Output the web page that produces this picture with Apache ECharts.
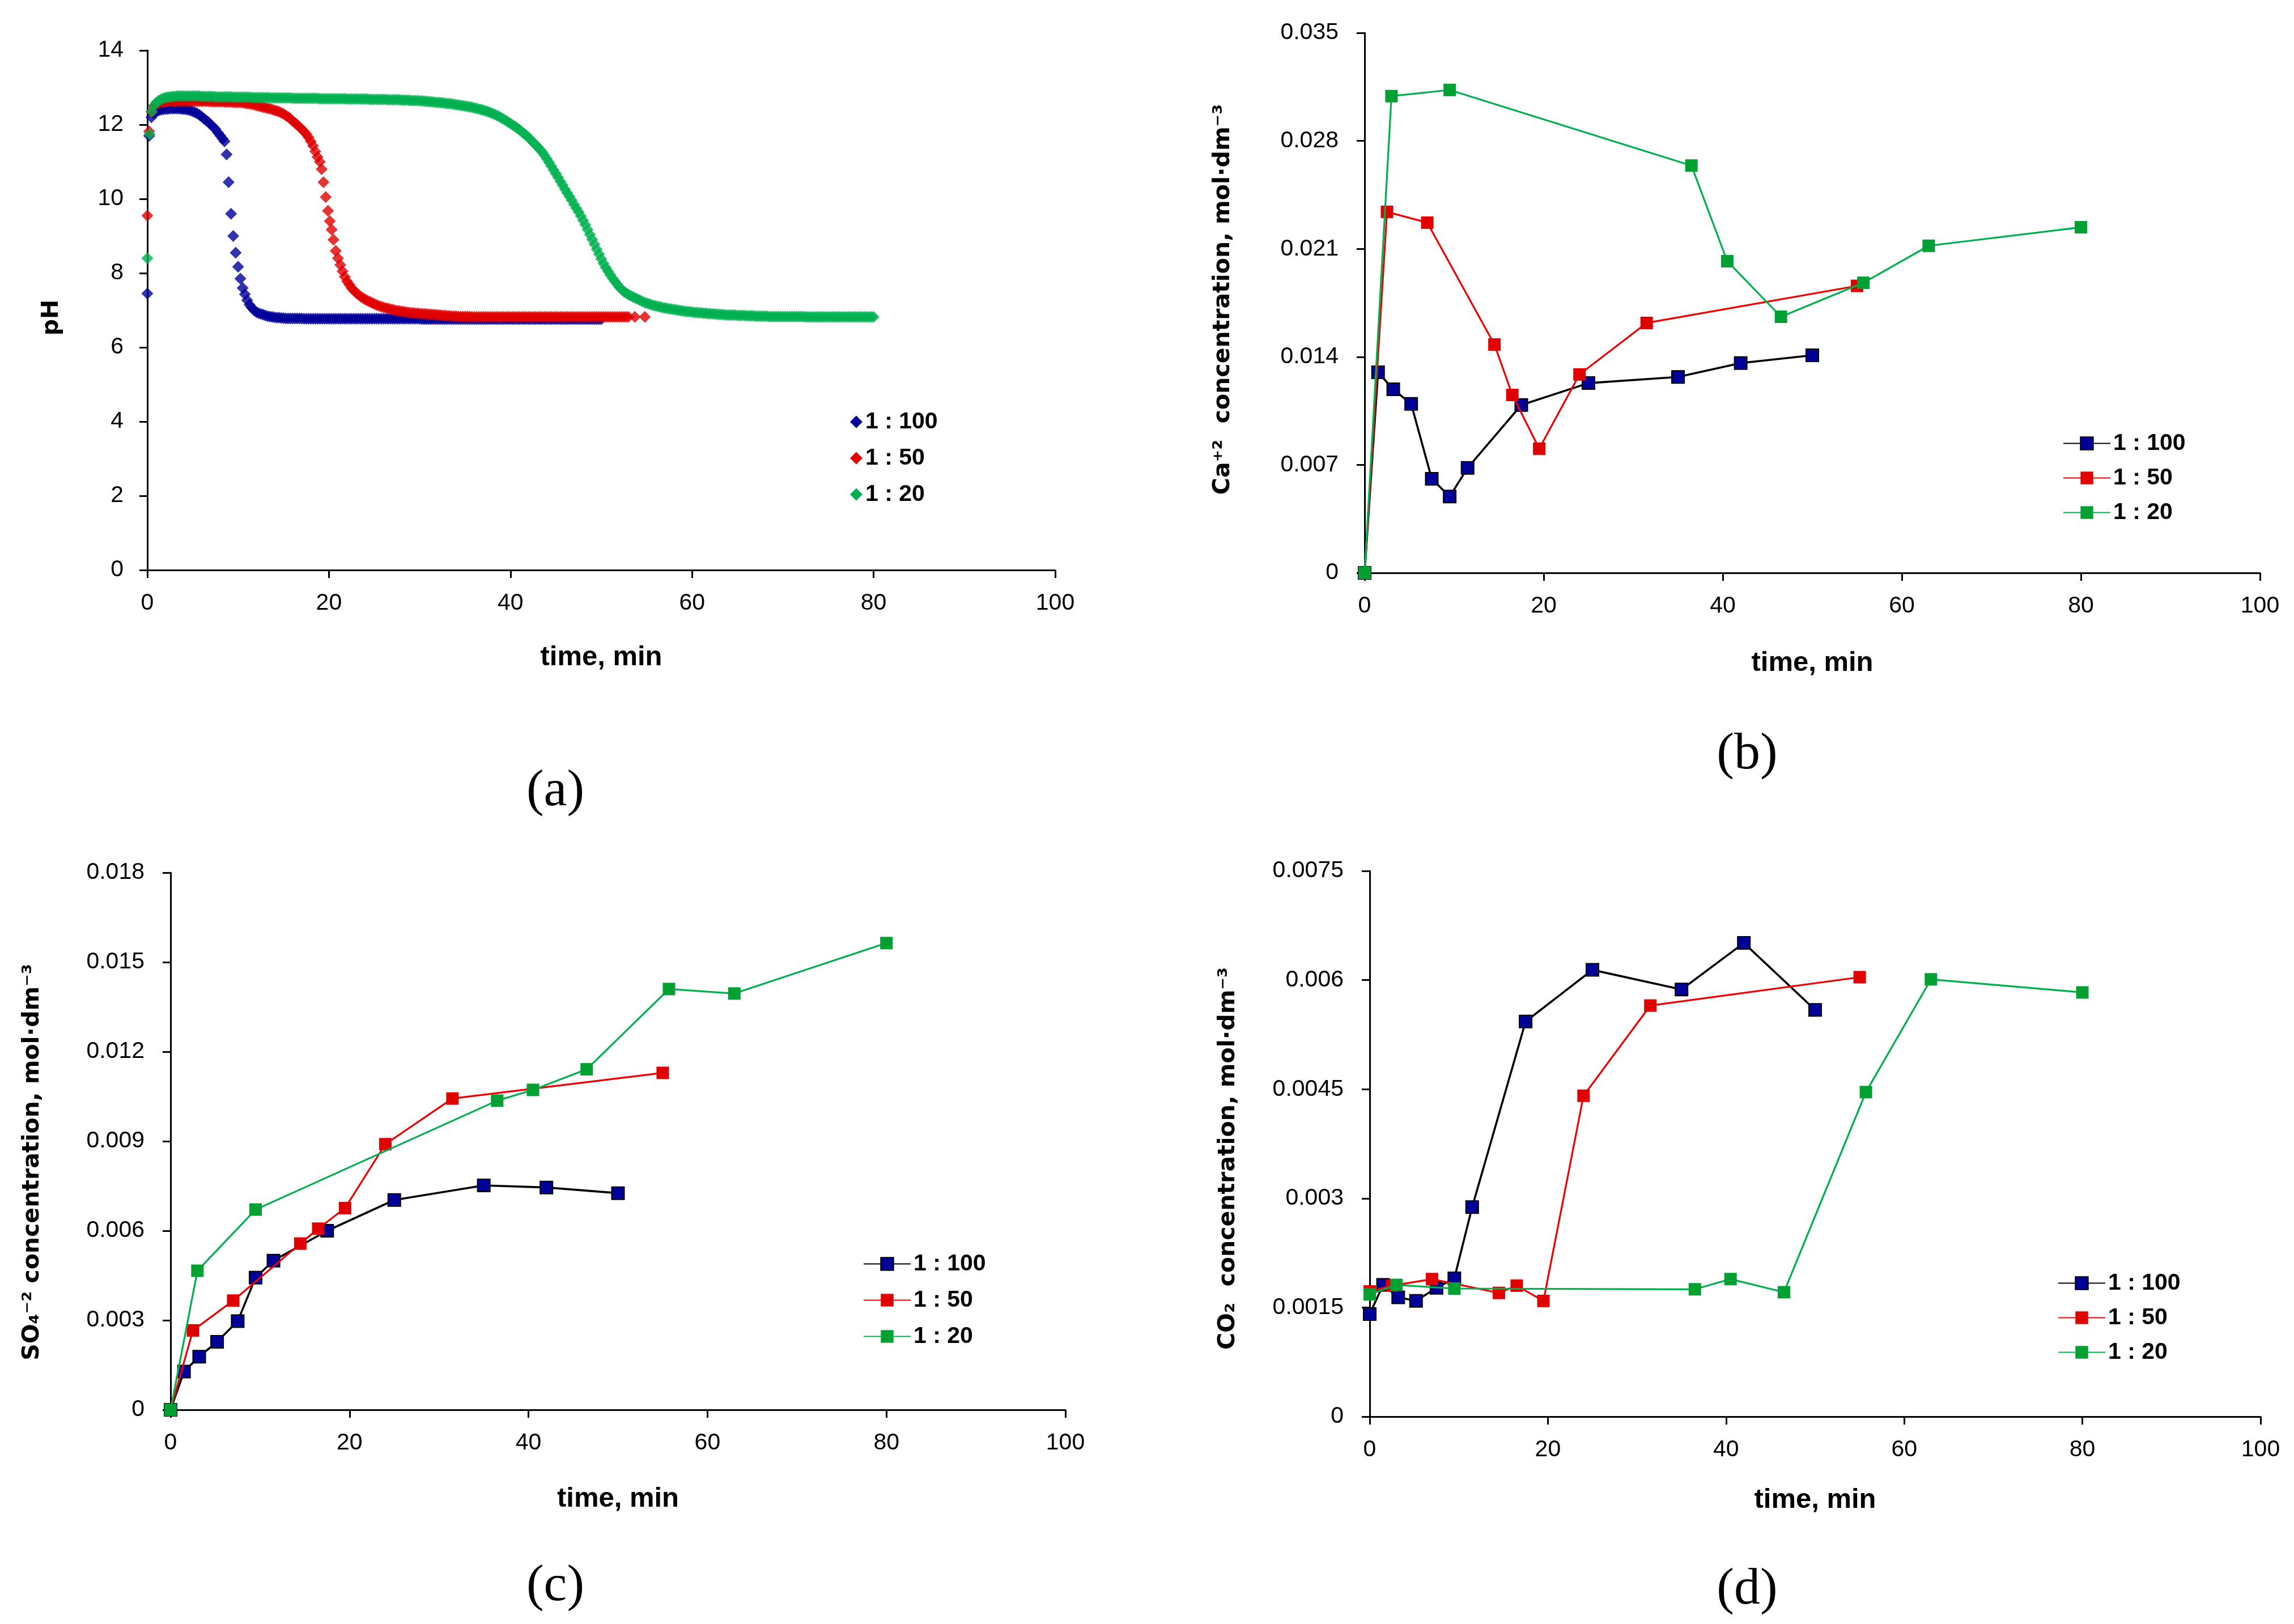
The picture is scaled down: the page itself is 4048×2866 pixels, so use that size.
<!DOCTYPE html>
<html>
<head>
<meta charset="utf-8">
<script src="https://cdn.jsdelivr.net/npm/echarts@6/dist/echarts.min.js"></script>
<style>
html,body{margin:0;padding:0;background:#ffffff;}
#chart{width:4048px;height:2866px;}
</style>
</head>
<body>
<div id="chart"></div>
<script>
// ---------------- DATA ----------------
const seriesNames = ['1 : 100', '1 : 50', '1 : 20'];
const captions = ['(a)', '(b)', '(c)', '(d)'];
const xTitle = 'time, min';
const yTitles = ['pH', 'Ca⁺²  concentration, mol·dm⁻³', 'SO₄⁻² concentration, mol·dm⁻³', 'CO₂  concentration, mol·dm⁻³'];

// (a) pH vs time  [time, pH]
const ph100 = [[0,7.45],[0.2,11.7],[0.45,12.2],[0.7,12.3],[1,12.35],[1.25,12.38],[1.5,12.4],[1.75,12.41],[2,12.42],[2.25,12.42],[2.5,12.43],[2.75,12.43],[3,12.43],[3.25,12.43],[3.5,12.43],[3.75,12.42],[4,12.42],[4.25,12.41],[4.5,12.4],[4.75,12.38],[5,12.36],[5.25,12.33],[5.5,12.3],[5.75,12.26],[6,12.21],[6.25,12.16],[6.5,12.11],[6.75,12.06],[7,12.0],[7.25,11.94],[7.5,11.88],[7.8,11.78],[8.05,11.7],[8.3,11.62],[8.5,11.55],[8.73,11.2],[8.95,10.45],[9.22,9.6],[9.46,9.0],[9.73,8.55],[10,8.17],[10.25,7.85],[10.5,7.6],[10.75,7.43],[11,7.27],[11.25,7.15],[11.5,7.07],[11.75,7.0],[12,6.95],[12.25,6.92],[12.5,6.9],[12.75,6.88],[13,6.86],[13.25,6.84],[13.5,6.83],[13.75,6.82],[14,6.81],[14.25,6.8],[14.5,6.8],[14.75,6.79],[15,6.79],
[15.25,6.78],[15.5,6.78],[15.75,6.78],[16,6.78],[16.25,6.78],[16.5,6.78],[16.75,6.78],[17,6.78],
[17.25,6.77],[17.5,6.77],[17.75,6.77],[18,6.77],[18.25,6.77],[18.5,6.77],[18.75,6.77],[19,6.77],[19.25,6.77],[19.5,6.77],[19.75,6.77],[20,6.77],[20.25,6.77],[20.5,6.77],[20.75,6.77],[21,6.77],[21.25,6.77],[21.5,6.77],[21.75,6.77],[22,6.77],[22.25,6.77],[22.5,6.77],[22.75,6.77],[23,6.77],[23.25,6.77],[23.5,6.77],[23.75,6.77],[24,6.77],[24.25,6.77],[24.5,6.77],[24.75,6.77],[25,6.77],[25.25,6.77],[25.5,6.77],[25.75,6.77],[26,6.77],[26.25,6.77],[26.5,6.77],[26.75,6.77],[27,6.77],[27.25,6.77],[27.5,6.77],[27.75,6.77],[28,6.77],[28.25,6.77],[28.5,6.77],[28.75,6.77],[29,6.77],[29.25,6.77],[29.5,6.77],[29.75,6.77],[30,6.77],
[30.25,6.76],[30.5,6.76],[30.75,6.76],[31,6.76],[31.25,6.76],[31.5,6.76],[31.75,6.76],[32,6.76],[32.25,6.76],[32.5,6.76],[32.75,6.76],[33,6.76],[33.25,6.76],[33.5,6.76],[33.75,6.76],[34,6.76],[34.25,6.76],[34.5,6.76],[34.75,6.76],[35,6.76],[35.25,6.76],[35.5,6.76],[35.75,6.76],[36,6.76],[36.25,6.76],[36.5,6.76],[36.75,6.76],[37,6.76],[37.25,6.76],[37.5,6.76],[37.75,6.76],[38,6.76],[38.25,6.76],[38.5,6.76],[38.75,6.76],[39,6.76],[39.25,6.76],[39.5,6.76],[39.75,6.76],[40,6.76],[40.25,6.76],[40.5,6.76],[40.75,6.76],[41,6.76],[41.25,6.76],[41.5,6.76],[41.75,6.76],[42,6.76],[42.25,6.76],[42.5,6.76],[42.75,6.76],[43,6.76],[43.25,6.76],[43.5,6.76],[43.75,6.76],[44,6.76],[44.25,6.76],[44.5,6.76],[44.75,6.76],[45,6.76],[45.25,6.76],[45.5,6.76],[45.75,6.76],[46,6.76],[46.25,6.76],[46.5,6.76],[46.75,6.76],[47,6.76],[47.25,6.76],[47.5,6.76],[47.75,6.76],[48,6.76],[48.25,6.76],[48.5,6.76],[48.75,6.76],[49,6.76],[49.25,6.76],[49.5,6.76],[49.75,6.76],[50,6.76]];

const ph50 = [[0,9.55],[0.2,11.82],[0.45,12.35],[0.7,12.5],[1,12.55],[1.25,12.58],[1.5,12.6],[1.75,12.61],[2,12.62],[2.25,12.63],[2.5,12.63],[2.75,12.63],[3,12.63],[3.25,12.63],[3.5,12.63],[3.75,12.63],[4,12.63],[4.25,12.63],[4.5,12.63],[4.75,12.63],[5,12.63],[5.25,12.63],[5.5,12.63],[5.75,12.63],[6,12.63],[6.25,12.63],[6.5,12.63],[6.75,12.63],[7,12.62],[7.25,12.62],[7.5,12.62],[7.75,12.62],[8,12.62],[8.25,12.62],[8.5,12.61],[8.75,12.61],[9,12.61],[9.25,12.61],[9.5,12.6],[9.75,12.6],[10,12.6],[10.25,12.6],[10.5,12.59],[10.75,12.58],[11,12.57],[11.25,12.56],[11.5,12.55],[11.75,12.54],[12,12.52],[12.25,12.5],[12.5,12.49],[12.75,12.47],[13,12.46],[13.25,12.44],[13.5,12.43],[13.75,12.41],[14,12.39],[14.25,12.37],[14.5,12.35],[14.75,12.32],[15,12.29],[15.25,12.25],[15.5,12.21],[15.75,12.16],[16,12.1],[16.25,12.05],[16.5,12.0],[16.75,11.94],[17,11.88],[17.25,11.82],[17.5,11.75],[17.75,11.66],[18,11.55],[18.25,11.43],[18.5,11.28],[18.75,11.13],[19,11.0],[19.2,10.8],[19.4,10.45],[19.65,10.05],[19.9,9.68],[20.1,9.4],[20.3,9.17],[20.5,8.9],[20.75,8.6],[21,8.4],[21.25,8.22],[21.5,8.05],[21.75,7.9],[22,7.78],[22.25,7.69],[22.5,7.6],[22.75,7.53],[23,7.47],[23.25,7.42],[23.5,7.37],[23.75,7.33],[24,7.29],[24.25,7.26],[24.5,7.23],[24.75,7.2],[25,7.17],[25.25,7.14],[25.5,7.12],[25.75,7.1],[26,7.08],[26.25,7.06],[26.5,7.05],[26.75,7.03],[27,7.02],[27.25,7.0],[27.5,6.99],[27.75,6.98],[28,6.97],[28.25,6.96],[28.5,6.95],[28.75,6.94],[29,6.93],[29.25,6.93],[29.5,6.92],[29.75,6.92],[30,6.91],[30.25,6.91],[30.5,6.9],[30.75,6.9],[31,6.89],[31.25,6.89],[31.5,6.88],[31.75,6.88],[32,6.87],[32.25,6.87],[32.5,6.86],[32.75,6.86],[33,6.85],[33.25,6.85],[33.5,6.84],[33.75,6.84],[34,6.84],[34.25,6.83],[34.5,6.83],[34.75,6.83],[35,6.83],[35.25,6.83],[35.5,6.83],[35.75,6.82],
[36,6.82],[36.25,6.82],[36.5,6.82],[36.75,6.82],[37,6.82],[37.25,6.82],[37.5,6.82],[37.75,6.82],[38,6.82],[38.25,6.82],[38.5,6.82],[38.75,6.82],[39,6.82],[39.25,6.82],[39.5,6.82],[39.75,6.82],[40,6.82],[40.25,6.82],[40.5,6.82],[40.75,6.82],[41,6.82],[41.25,6.82],[41.5,6.82],[41.75,6.82],[42,6.82],[42.25,6.82],[42.5,6.82],[42.75,6.82],[43,6.82],[43.25,6.82],[43.5,6.82],[43.75,6.82],[44,6.82],[44.25,6.82],[44.5,6.82],[44.75,6.82],[45,6.82],[45.25,6.82],[45.5,6.82],[45.75,6.82],[46,6.82],[46.25,6.82],[46.5,6.82],[46.75,6.82],[47,6.82],[47.25,6.82],[47.5,6.82],[47.75,6.82],[48,6.82],[48.25,6.82],[48.5,6.82],[48.75,6.82],[49,6.82],[49.25,6.82],[49.5,6.82],[49.75,6.82],[50,6.82],[50.25,6.82],[50.5,6.82],[50.75,6.82],[51,6.82],[51.25,6.82],[51.5,6.82],[51.75,6.82],[52,6.82],[52.25,6.82],[52.5,6.82],[52.75,6.82],[53,6.82],[53.7,6.82],[54.8,6.82]];

const ph20 = [[0,8.4],[0.25,11.75],[0.5,12.35],[0.75,12.52],[1,12.6],[1.25,12.65],[1.5,12.68],[1.75,12.71],[2,12.73],[2.25,12.74],[2.5,12.75],[2.75,12.76],[3,12.76],
[3.25,12.77],[3.5,12.77],[3.75,12.77],[4,12.77],[4.25,12.77],[4.5,12.77],[4.75,12.77],[5,12.77],[5.25,12.77],[5.5,12.77],[5.75,12.77],
[6,12.76],[6.25,12.76],[6.5,12.76],[6.75,12.76],[7,12.76],[7.25,12.76],
[7.5,12.75],[7.75,12.75],[8,12.75],[8.25,12.75],[8.5,12.75],[8.75,12.75],[9,12.75],[9.25,12.75],
[9.5,12.74],[9.75,12.74],[10,12.74],[10.25,12.74],[10.5,12.74],[10.75,12.74],[11,12.74],[11.25,12.74],
[11.5,12.73],[11.75,12.73],[12,12.73],[12.25,12.73],[12.5,12.73],[12.75,12.73],[13,12.73],[13.25,12.73],
[13.5,12.72],[13.75,12.72],[14,12.72],[14.25,12.72],[14.5,12.72],[14.75,12.72],[15,12.72],[15.25,12.72],[15.5,12.72],[15.75,12.72],
[16,12.71],[16.25,12.71],[16.5,12.71],[16.75,12.71],[17,12.71],[17.25,12.71],[17.5,12.71],[17.75,12.71],[18,12.71],[18.25,12.71],[18.5,12.71],[18.75,12.71],
[19,12.7],[19.25,12.7],[19.5,12.7],[19.75,12.7],[20,12.7],[20.25,12.7],[20.5,12.7],[20.75,12.7],[21,12.7],[21.25,12.7],[21.5,12.7],[21.75,12.7],
[22,12.69],[22.25,12.69],[22.5,12.69],[22.75,12.69],[23,12.69],[23.25,12.69],[23.5,12.69],[23.75,12.69],[24,12.69],[24.25,12.69],
[24.5,12.68],[24.75,12.68],[25,12.68],[25.25,12.68],[25.5,12.68],[25.75,12.68],[26,12.68],[26.25,12.68],
[26.5,12.67],[26.75,12.67],[27,12.67],[27.25,12.67],[27.5,12.67],[27.75,12.67],
[28,12.66],[28.25,12.66],[28.5,12.66],[28.75,12.66],[29,12.65],[29.25,12.65],[29.5,12.65],[29.75,12.65],
[30,12.64],[30.25,12.64],[30.5,12.63],[30.75,12.63],[31,12.62],[31.25,12.62],[31.5,12.61],[31.75,12.6],[32,12.6],[32.25,12.59],[32.5,12.59],[32.75,12.58],[33,12.57],[33.25,12.57],[33.5,12.56],[33.75,12.55],[34,12.54],[34.25,12.53],[34.5,12.52],[34.75,12.51],[35,12.5],[35.25,12.49],[35.5,12.48],[35.75,12.47],[36,12.45],[36.25,12.44],[36.5,12.42],[36.75,12.41],[37,12.39],[37.25,12.37],[37.5,12.35],[37.75,12.33],[38,12.3],[38.25,12.28],[38.5,12.25],[38.75,12.22],[39,12.18],[39.25,12.15],[39.5,12.11],[39.75,12.07],[40,12.03],[40.25,11.99],[40.5,11.95],[40.75,11.91],[41,11.86],[41.25,11.81],[41.5,11.76],[41.75,11.71],[42,11.65],[42.25,11.59],[42.5,11.52],[42.75,11.46],[43,11.4],[43.25,11.33],[43.5,11.26],[43.75,11.17],[44,11.08],[44.25,10.98],[44.5,10.88],[44.75,10.78],[45,10.68],[45.25,10.58],[45.5,10.47],[45.75,10.37],[46,10.26],[46.25,10.16],[46.5,10.06],[46.75,9.96],[47,9.85],[47.25,9.75],[47.5,9.65],[47.75,9.54],[48,9.42],[48.25,9.3],[48.5,9.17],[48.75,9.04],[49,8.91],[49.25,8.78],[49.5,8.64],[49.75,8.51],[50,8.38],[50.25,8.26],[50.5,8.15],[50.75,8.05],[51,7.95],[51.25,7.86],[51.5,7.78],[51.75,7.7],[52,7.62],[52.25,7.56],[52.5,7.5],[52.75,7.46],[53,7.42],[53.25,7.39],[53.5,7.36],[53.75,7.33],[54,7.3],[54.25,7.27],[54.5,7.24],[54.75,7.21],[55,7.19],[55.25,7.17],[55.5,7.15],[55.75,7.13],[56,7.12],[56.25,7.1],[56.5,7.09],[56.75,7.07],[57,7.06],[57.25,7.05],[57.5,7.04],[57.75,7.03],[58,7.02],[58.25,7.01],[58.5,7.0],[58.75,6.99],[59,6.98],[59.25,6.97],[59.5,6.96],[59.75,6.96],[60,6.95],[60.25,6.94],[60.5,6.94],[60.75,6.93],[61,6.93],[61.25,6.92],[61.5,6.92],[61.75,6.91],[62,6.91],[62.25,6.9],[62.5,6.9],[62.75,6.89],[63,6.89],[63.25,6.88],[63.5,6.88],[63.75,6.87],[64,6.87],[64.25,6.87],[64.5,6.87],[64.75,6.87],
[65,6.86],[65.25,6.86],[65.5,6.86],[65.75,6.86],[66,6.85],[66.25,6.85],[66.5,6.85],[66.75,6.85],[67,6.84],[67.25,6.84],[67.5,6.84],[67.75,6.84],[68,6.84],[68.25,6.84],
[68.5,6.83],[68.75,6.83],[69,6.83],[69.25,6.83],[69.5,6.83],[69.75,6.83],[70,6.83],[70.25,6.83],[70.5,6.83],[70.75,6.83],[71,6.83],[71.25,6.83],[71.5,6.83],[71.75,6.83],[72,6.83],[72.25,6.83],
[72.5,6.82],[72.75,6.82],[73,6.82],[73.25,6.82],[73.5,6.82],[73.75,6.82],[74,6.82],[74.25,6.82],[74.5,6.82],[74.75,6.82],[75,6.82],[75.25,6.82],[75.5,6.82],[75.75,6.82],[76,6.82],[76.25,6.82],[76.5,6.82],[76.75,6.82],[77,6.82],[77.25,6.82],[77.5,6.82],[77.75,6.82],[78,6.82],[78.25,6.82],[78.5,6.82],[78.75,6.82],[79,6.82],[79.25,6.82],[79.5,6.82],[79.75,6.82],[80,6.82]];

// (b)-(d) sampling times, min
const t100 = [0, 1.5, 3.2, 5.2, 7.5, 9.5, 11.5, 17.5, 25, 35, 42, 50];
const t50  = [0, 2.5, 7, 14.5, 16.5, 19.5, 24, 31.5, 55];
const t20  = [0, 3, 9.5, 36.5, 40.5, 46.5, 55.7, 63, 80];

// (b) Ca+2, mol/dm3
const ca100 = [0, 0.0130, 0.0119, 0.01095, 0.0061, 0.00495, 0.0068, 0.01088, 0.0123, 0.0127, 0.0136, 0.0141];
const ca50  = [0, 0.0234, 0.0227, 0.0148, 0.01153, 0.00805, 0.01286, 0.0162, 0.0186];
const ca20  = [0, 0.0309, 0.0313, 0.0264, 0.0202, 0.0166, 0.0188, 0.0212, 0.0224];

// (c) SO4-2, mol/dm3
const so4_100 = [0, 0.00128, 0.00178, 0.00228, 0.00297, 0.00443, 0.0050, 0.0060, 0.00703, 0.00752, 0.00745, 0.00726];
const so4_50  = [0, 0.00266, 0.00366, 0.00557, 0.00607, 0.00676, 0.0089, 0.01043, 0.01129];
const so4_20  = [0, 0.00466, 0.00671, 0.01036, 0.01072, 0.01141, 0.0141, 0.01395, 0.01564];

// (d) CO2, mol/dm3
const co2_100 = [0.00141, 0.00181, 0.00164, 0.00159, 0.00177, 0.00190, 0.00288, 0.00543, 0.00614, 0.00587, 0.00651, 0.00559];
const co2_50  = [0.00172, 0.00180, 0.00189, 0.00170, 0.00180, 0.00159, 0.00441, 0.00565, 0.00604];
const co2_20  = [0.00168, 0.00181, 0.00176, 0.00175, 0.00189, 0.00171, 0.00446, 0.00601, 0.00583];

// axis scales
const xScale = {min: 0, max: 100, interval: 20};
const yScales = [
  {min: 0, max: 14, interval: 2},
  {min: 0, max: 0.035, interval: 0.007},
  {min: 0, max: 0.018, interval: 0.003},
  {min: 0, max: 0.0075, interval: 0.0015}
];

// ---------------- STYLE / LAYOUT ----------------
const SANS = "'Liberation Sans', Arial, sans-serif";
const VERD = "'DejaVu Sans', Verdana, sans-serif";

const grids = [
  {left: 260, top: 89, width: 1602, height: 917},
  {left: 2408, top: 58, width: 1580, height: 953},
  {left: 301, top: 1540, width: 1579, height: 948},
  {left: 2417, top: 1537, width: 1572, height: 963}
];
const xNameGap = [130, 135, 133, 123];
const yNameGap = [148, 229, 223, 229];
const yNamePad = [[0, 26, 0, 0], [0, 0, 0, 12], [0, 74, 0, 0], [0, 52, 0, 0]];
const yLabelMargin = [42, 46, 46, 46];
const captionPos = [[980, 1397], [3083, 1332], [980, 2800], [3083, 2806]];

const scatterColors = ['#000099', '#e00000', '#00b050'];
const lineStyles = [
  {line: '#000000', width: 3.6, fill: '#000099', border: '#000000', bw: 2},
  {line: '#ee0000', width: 3.2, fill: '#e00000', border: '#e00000', bw: 0},
  {line: '#00b050', width: 3.2, fill: '#00a032', border: '#00a032', bw: 0}
];

function yFmt(v) {
  if (v === 0) return '0';
  return String(Number(v.toPrecision(6)));
}

const xAxes = grids.map((g, i) => ({
  type: 'value', gridIndex: i, min: xScale.min, max: xScale.max, interval: xScale.interval,
  name: xTitle, nameLocation: 'middle', nameGap: xNameGap[i],
  nameTextStyle: {fontFamily: SANS, fontWeight: 'bold', fontSize: 49, color: '#000'},
  axisLine: {show: true, onZero: false, lineStyle: {color: '#000', width: 3}},
  axisTick: {show: true, inside: false, length: 14, lineStyle: {color: '#000', width: 3}},
  axisLabel: {fontFamily: SANS, fontSize: 41, color: '#000', margin: 38},
  splitLine: {show: false}
}));

const yAxes = grids.map((g, i) => ({
  type: 'value', gridIndex: i, min: yScales[i].min, max: yScales[i].max, interval: yScales[i].interval,
  name: yTitles[i], nameLocation: 'middle', nameGap: yNameGap[i],
  nameTextStyle: {fontFamily: VERD, fontWeight: 'bold', fontSize: 41, color: '#000', padding: yNamePad[i]},
  axisLine: {show: true, onZero: false, lineStyle: {color: '#000', width: 3}},
  axisTick: {show: true, inside: false, length: 14, lineStyle: {color: '#000', width: 3}},
  axisLabel: {fontFamily: SANS, fontSize: 41, color: '#000', margin: yLabelMargin[i], formatter: yFmt},
  splitLine: {show: false}
}));

function pairs(ts, vs) { return ts.map((t, k) => [t, vs[k]]); }

const concData = [
  null,
  [pairs(t100, ca100), pairs(t50, ca50), pairs(t20, ca20)],
  [pairs(t100, so4_100), pairs(t50, so4_50), pairs(t20, so4_20)],
  [pairs(t100, co2_100), pairs(t50, co2_50), pairs(t20, co2_20)]
];

const series = [];
for (let g = 1; g <= 3; g++) {
  for (let s = 0; s < 3; s++) {
    const st = lineStyles[s];
    series.push({
      type: 'line', name: seriesNames[s], xAxisIndex: g, yAxisIndex: g,
      data: concData[g][s], symbol: 'rect', symbolSize: 22, showSymbol: true, showAllSymbol: true,
      lineStyle: {color: st.line, width: st.width},
      itemStyle: {color: st.fill, borderColor: st.border, borderWidth: st.bw},
      emphasis: {disabled: true}, z: 2 + s
    });
  }
}
const phData = [ph100, ph50, ph20];
for (let s = 0; s < 3; s++) {
  series.push({
    type: 'scatter', name: seriesNames[s], xAxisIndex: 0, yAxisIndex: 0,
    data: phData[s], symbol: 'diamond', symbolSize: 21,
    itemStyle: {color: scatterColors[s]}, emphasis: {disabled: true}, z: 2 + s
  });
}

const legendText = {fontFamily: SANS, fontWeight: 'bold', fontSize: 41, color: '#000'};
const legends = [
  {left: 1500, top: 724, itemWidth: 22, itemHeight: 22, itemGap: 23,
   data: seriesNames.map((n, s) => ({name: n, icon: 'diamond', itemStyle: {color: scatterColors[s], borderWidth: 0}}))},
  {left: 3640, top: 762, itemWidth: 83, itemHeight: 28, itemGap: 20, data: seriesNames},
  {left: 1523, top: 2210, itemWidth: 83, itemHeight: 28, itemGap: 23, data: seriesNames},
  {left: 3631, top: 2244, itemWidth: 83, itemHeight: 28, itemGap: 20, data: seriesNames}
].map(l => Object.assign({orient: 'vertical', padding: 0, selectedMode: false, textStyle: legendText}, l));

const graphics = captions.map((c, i) => ({
  type: 'text', x: captionPos[i][0], y: captionPos[i][1],
  style: {text: c, font: "92px 'Liberation Serif', 'Times New Roman', serif", fill: '#000', align: 'center', verticalAlign: 'middle'}
}));

const chart = echarts.init(document.getElementById('chart'), null, {renderer: 'canvas', width: 4048, height: 2866});
chart.setOption({
  animation: false,
  backgroundColor: '#ffffff',
  grid: grids.map(g => Object.assign({containLabel: false, outerBoundsMode: 'none'}, g)),
  xAxis: xAxes,
  yAxis: yAxes,
  legend: legends,
  graphic: graphics,
  series: series
});
</script>
</body>
</html>
